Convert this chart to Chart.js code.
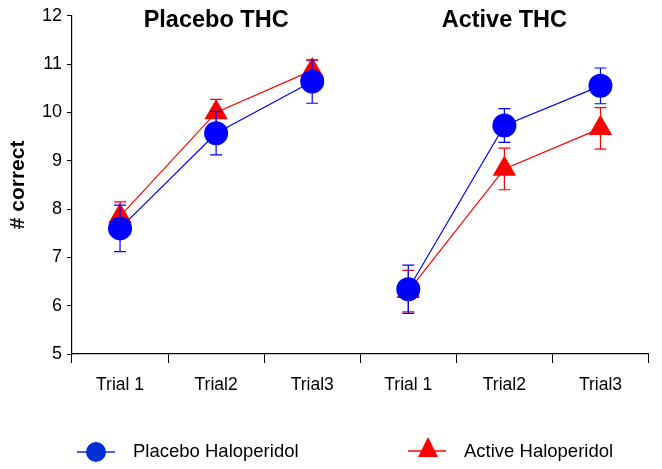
<!DOCTYPE html>
<html>
<head>
<meta charset="utf-8">
<script src="https://cdn.jsdelivr.net/npm/chart.js@4"></script>
<style>
  html, body { margin: 0; padding: 0; background: #fff; }
  #wrap { width: 662px; height: 469px; }
</style>
</head>
<body>
<div id="wrap"><canvas id="lineChartCanvas"></canvas></div>
<script>
let trials = ["Trial 1", "Trial2", "Trial3", "Trial 1", "Trial2", "Trial3"];
let groups = ["Placebo THC", "Active THC"];
let placeboHal = [7.6, 9.57, 10.64, 6.34, 9.73, 10.55];
let placeboHalErr = [0.48, 0.45, 0.45, 0.5, 0.35, 0.37];
let activeHal = [7.85, 10.0, 10.87, 6.3, 8.83, 9.67];
let activeHalErr = [0.3, 0.27, 0.2, 0.43, 0.43, 0.43];
let yTicks = [5, 6, 7, 8, 9, 10, 11, 12];

let blue = "#0000ff";
let red = "#ff0000";
let font = "'Liberation Sans', Arial, Helvetica, sans-serif";

// no line between the last trial of one group and the first of the next
let breakGroups = (ctx) => (ctx.p0DataIndex === 2 ? "transparent" : undefined);

let errorBars = {
  id: "errorBars",
  afterDatasetDraw(chart, args) {
    let ds = chart.data.datasets[args.index];
    let meta = args.meta;
    let y = chart.scales.y;
    let c = chart.ctx;
    c.save();
    c.strokeStyle = ds.borderColor;
    c.lineWidth = 1.2;
    meta.data.forEach((pt, i) => {
      let v = ds.data[i];
      let e = ds.errors[i];
      let top = y.getPixelForValue(v + e);
      let bot = y.getPixelForValue(v - e);
      c.beginPath();
      c.moveTo(pt.x, top);
      c.lineTo(pt.x, bot);
      c.moveTo(pt.x - 6, top);
      c.lineTo(pt.x + 6, top);
      c.moveTo(pt.x - 6, bot);
      c.lineTo(pt.x + 6, bot);
      c.stroke();
    });
    c.restore();
  },
};

let extras = {
  id: "extras",
  afterDraw(chart) {
    let c = chart.ctx;
    let x = chart.scales.x;
    c.save();
    // group titles
    c.fillStyle = "#000";
    c.font = "bold 23.5px " + font;
    c.textAlign = "center";
    c.textBaseline = "middle";
    c.fillText(groups[0], x.getPixelForValue(1), 21);
    c.fillText(groups[1], x.getPixelForValue(4), 21);

    // legend
    let ly = 452;
    c.lineWidth = 1.5;
    c.strokeStyle = "#1030e0";
    c.beginPath();
    c.moveTo(77, ly);
    c.lineTo(115, ly);
    c.stroke();
    c.fillStyle = "#0030d0";
    c.beginPath();
    c.arc(96, ly, 10, 0, Math.PI * 2);
    c.fill();

    c.strokeStyle = red;
    c.beginPath();
    c.moveTo(408, ly - 1);
    c.lineTo(446, ly - 1);
    c.stroke();
    c.fillStyle = red;
    c.beginPath();
    c.moveTo(428, ly - 15);
    c.lineTo(438, ly + 5);
    c.lineTo(418, ly + 5);
    c.closePath();
    c.fill();

    c.fillStyle = "#000";
    c.font = "18.5px " + font;
    c.textAlign = "left";
    c.fillText(chart.data.datasets[0].label, 133, ly);
    c.fillText(chart.data.datasets[1].label, 464, ly);
    c.restore();
  },
};

new Chart(document.querySelector("#lineChartCanvas").getContext("2d"), {
  type: "line",
  data: {
    labels: trials,
    datasets: [
      {
        label: "Placebo Haloperidol",
        data: placeboHal,
        errors: placeboHalErr,
        borderColor: blue,
        backgroundColor: blue,
        borderWidth: 1.2,
        pointStyle: "circle",
        pointRadius: 12,
        pointHoverRadius: 12,
        pointBorderWidth: 0,
        segment: { borderColor: breakGroups },
      },
      {
        label: "Active Haloperidol",
        data: activeHal,
        errors: activeHalErr,
        borderColor: red,
        backgroundColor: red,
        borderWidth: 1.2,
        pointStyle: "triangle",
        pointRadius: 13.5,
        pointHoverRadius: 13.5,
        pointBorderWidth: 0,
        segment: { borderColor: breakGroups },
      },
    ],
  },
  options: {
    responsive: true,
    maintainAspectRatio: false,
    animation: false,
    layout: { padding: { top: 14, right: 9, left: 0, bottom: 0 } },
    plugins: {
      legend: { display: false },
      tooltip: { enabled: false },
    },
    scales: {
      x: {
        offset: true,
        grid: {
          offset: true,
          drawOnChartArea: false,
          tickLength: 9,
          color: "#000",
        },
        border: { color: "#000", width: 1.2 },
        ticks: {
          color: "#000",
          padding: 12,
          maxRotation: 0,
          autoSkip: false,
          font: { family: font, size: 17.5 },
        },
        afterFit(scale) {
          scale.height = 115;
        },
      },
      y: {
        min: 5,
        max: 12,
        afterBuildTicks(scale) {
          scale.ticks = yTicks.map((v) => ({ value: v }));
        },
        grid: {
          drawOnChartArea: false,
          tickLength: 5,
          color: "#000",
        },
        border: { color: "#000", width: 1.2 },
        ticks: {
          color: "#000",
          padding: 5,
          font: { family: font, size: 18 },
        },
        title: {
          display: true,
          text: "# correct",
          color: "#000",
          padding: { top: 6, bottom: 0 },
          font: { family: font, size: 21, weight: "bold" },
        },
        afterFit(scale) {
          scale.width = 72;
        },
      },
    },
  },
  plugins: [errorBars, extras],
});
</script>
</body>
</html>
